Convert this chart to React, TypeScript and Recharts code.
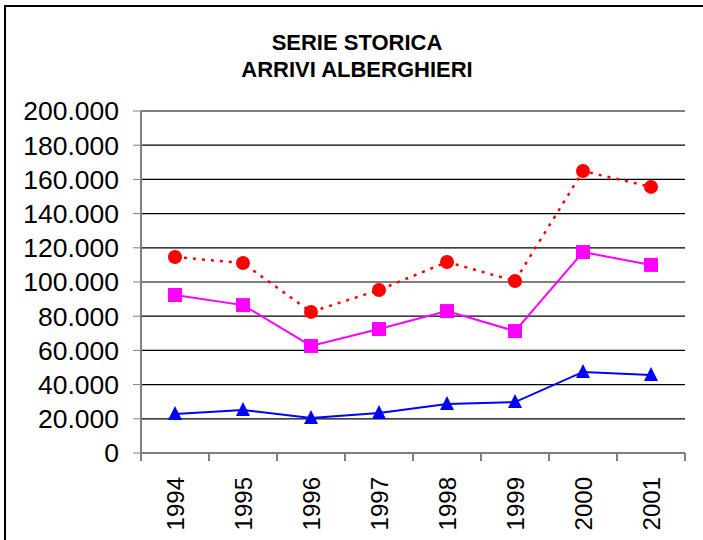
import { LineChart, Line, XAxis, YAxis, CartesianGrid } from "recharts";

const anni = ["1994", "1995", "1996", "1997", "1998", "1999", "2000", "2001"];
const totale = [114600, 111100, 82500, 95300, 111700, 100600, 164900, 155600];
const italiani = [92400, 86500, 62600, 72500, 83000, 71300, 117500, 110000];
const stranieri = [22800, 25100, 20500, 23400, 28700, 29800, 47400, 45600];
const yTicks = [0, 20000, 40000, 60000, 80000, 100000, 120000, 140000, 160000, 180000, 200000];

const data = anni.map((anno, i) => ({
  anno,
  totale: totale[i],
  italiani: italiani[i],
  stranieri: stranieri[i],
}));

const FONT = "'Liberation Sans', Arial, sans-serif";

const fmt = (v: number) => String(v).replace(/\B(?=(\d{3})+(?!\d))/g, ".");

// etichetta ruotata + tacche tra le categorie (stile Excel)
const YearTick = (props: any) => {
  const { x, y, payload } = props;
  const off = payload.offset || 0;
  const last = payload.value === anni[anni.length - 1];
  return (
    <g>
      <line x1={x - off} y1={y} x2={x - off} y2={y + 8} stroke="#808080" strokeWidth={2} />
      {last && <line x1={x + off} y1={y} x2={x + off} y2={y + 8} stroke="#808080" strokeWidth={2} />}
      <text
        x={0}
        y={0}
        transform={`translate(${x},${y + 24}) rotate(-90)`}
        textAnchor="end"
        dominantBaseline="central"
        fontSize={24}
        fontFamily={FONT}
        fill="#000"
      >
        {payload.value}
      </text>
    </g>
  );
};

const Square = (props: any) => {
  const { cx, cy } = props;
  if (cx == null || cy == null) return null;
  return <rect x={cx - 7} y={cy - 7} width={14} height={14} fill="#FF00FF" />;
};

const Triangle = (props: any) => {
  const { cx, cy } = props;
  if (cx == null || cy == null) return null;
  return (
    <polygon
      points={`${cx},${cy - 8} ${cx + 7},${cy + 6} ${cx - 7},${cy + 6}`}
      fill="#0000FF"
    />
  );
};

const App = () => {
  return (
    <div
      style={{
        position: "absolute",
        left: 0,
        top: 0,
        width: 703,
        height: 540,
        overflow: "hidden",
        background: "#fff",
        fontFamily: FONT,
      }}
    >
      <div
        style={{
          position: "absolute",
          left: 4,
          top: 5,
          width: 760,
          height: 600,
          borderTop: "2px solid #000",
          borderLeft: "2px solid #000",
        }}
      />
      <div
        style={{
          position: "absolute",
          left: 4,
          top: 29,
          width: 706,
          textAlign: "center",
          fontWeight: "bold",
          fontSize: 22,
          lineHeight: "27px",
          color: "#000",
        }}
      >
        SERIE STORICA
        <br />
        ARRIVI ALBERGHIERI
      </div>
      <div style={{ position: "absolute", left: 0, top: 0 }}>
        <LineChart
          width={703}
          height={540}
          data={data}
          margin={{ top: 111, right: 18, bottom: 0, left: 0 }}
        >
          <CartesianGrid vertical={false} stroke="#000" strokeWidth={1.2} />
          <XAxis
            dataKey="anno"
            scale="band"
            height={87}
            axisLine={{ stroke: "#808080", strokeWidth: 2 }}
            tickLine={false}
            tickSize={0}
            tickMargin={0}
            interval={0}
            tick={<YearTick />}
          />
          <YAxis
            width={141}
            domain={[0, 200000]}
            ticks={yTicks}
            interval={0}
            tickFormatter={fmt}
            tickSize={8}
            tickMargin={14}
            axisLine={{ stroke: "#808080", strokeWidth: 2 }}
            tickLine={{ stroke: "#808080" }}
            tick={{ fill: "#000", fontSize: 26.5, fontFamily: FONT }}
          />
          <Line
            dataKey="totale"
            stroke="#FF0000"
            strokeWidth={2.5}
            strokeDasharray="3 6"
            dot={{ r: 7, fill: "#FF0000", stroke: "none" }}
            isAnimationActive={false}
          />
          <Line
            dataKey="italiani"
            stroke="#FF00FF"
            strokeWidth={2}
            dot={<Square />}
            isAnimationActive={false}
          />
          <Line
            dataKey="stranieri"
            stroke="#0000FF"
            strokeWidth={2}
            dot={<Triangle />}
            isAnimationActive={false}
          />
        </LineChart>
      </div>
    </div>
  );
};

export default App;
